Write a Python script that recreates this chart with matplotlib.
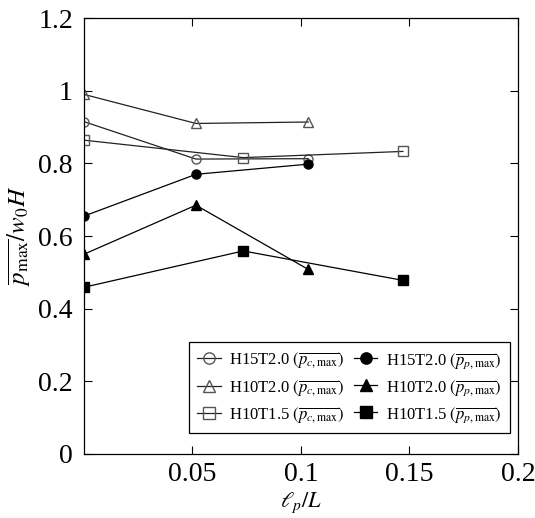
import matplotlib
matplotlib.use("Agg")
import matplotlib.pyplot as plt

plt.rcParams['font.family'] = 'serif'
plt.rcParams['font.serif'] = ['Liberation Serif', 'DejaVu Serif']
plt.rcParams['mathtext.fontset'] = 'stix'

# x = l_p / L
x_h15t20 = [0.0, 0.0516, 0.1034]
x_h10t20 = [0.0, 0.0516, 0.1034]
x_h10t15 = [0.0, 0.0734, 0.147]

# open markers: p_c,max ; filled markers: p_p,max
pc_h15t20 = [0.915, 0.812, 0.813]
pc_h10t20 = [0.990, 0.910, 0.914]
pc_h10t15 = [0.864, 0.816, 0.833]
pp_h15t20 = [0.655, 0.770, 0.798]
pp_h10t20 = [0.550, 0.685, 0.508]
pp_h10t15 = [0.459, 0.559, 0.478]

xticks = [0.05, 0.1, 0.15, 0.2]
xlabels = ['0.05', '0.1', '0.15', '0.2']
yticks = [0, 0.2, 0.4, 0.6, 0.8, 1.0, 1.2]
ylabels = ['0', '0.2', '0.4', '0.6', '0.8', '1', '1.2']

fig = plt.figure(figsize=(5.35, 5.18), dpi=100)
ax = fig.add_axes([0.157, 0.1236, 0.811, 0.8414])

lw = 0.9
ms = 6.5
pc = r'$(\overline{p_{c,\mathrm{max}}})$'
pp = r'$(\overline{p_{p,\mathrm{max}}})$'

ax.plot(x_h15t20, pc_h15t20, '-o', color='#222222', mfc='none', mec='#555555', ms=ms, lw=lw, label='H15T2.0 ' + pc)
ax.plot(x_h10t20, pc_h10t20, '-^', color='#222222', mfc='none', mec='#555555', ms=ms, lw=lw, label='H10T2.0 ' + pc)
ax.plot(x_h10t15, pc_h10t15, '-s', color='#222222', mfc='none', mec='#555555', ms=ms, lw=lw, label='H10T1.5 ' + pc)
ax.plot(x_h15t20, pp_h15t20, '-o', color='black', ms=ms, lw=lw, label='H15T2.0 ' + pp)
ax.plot(x_h10t20, pp_h10t20, '-^', color='black', ms=ms, lw=lw, label='H10T2.0 ' + pp)
ax.plot(x_h10t15, pp_h10t15, '-s', color='black', ms=ms, lw=lw, label='H10T1.5 ' + pp)

ax.set_xlim(0, 0.2)
ax.set_ylim(0, 1.2)
ax.set_xticks(xticks)
ax.set_xticklabels(xlabels)
ax.set_yticks(yticks)
ax.set_yticklabels(ylabels)
ax.tick_params(direction='in', top=True, right=True, labelsize=20, length=6, width=0.8, pad=8)
ax.tick_params(axis='x', pad=6)
for s in ax.spines.values():
    s.set_linewidth(0.9)

ax.set_xlabel(r'$\ell_p/L$', fontsize=16, labelpad=0)
ax.xaxis.set_label_coords(0.5, -0.083)
ax.set_ylabel(r'$\overline{p_{\mathrm{max}}}/w_0H$', fontsize=18, labelpad=4)

leg = ax.legend(ncol=2, loc='lower right', bbox_to_anchor=(1.0, 0.028), fontsize=12,
                frameon=True, fancybox=False, edgecolor='black', framealpha=1,
                handlelength=1.4, columnspacing=0.6, handletextpad=0.5,
                labelspacing=0.45, borderpad=0.5, markerscale=1.25)
leg.get_frame().set_linewidth(0.9)

fig.savefig('out.png', dpi=100)
